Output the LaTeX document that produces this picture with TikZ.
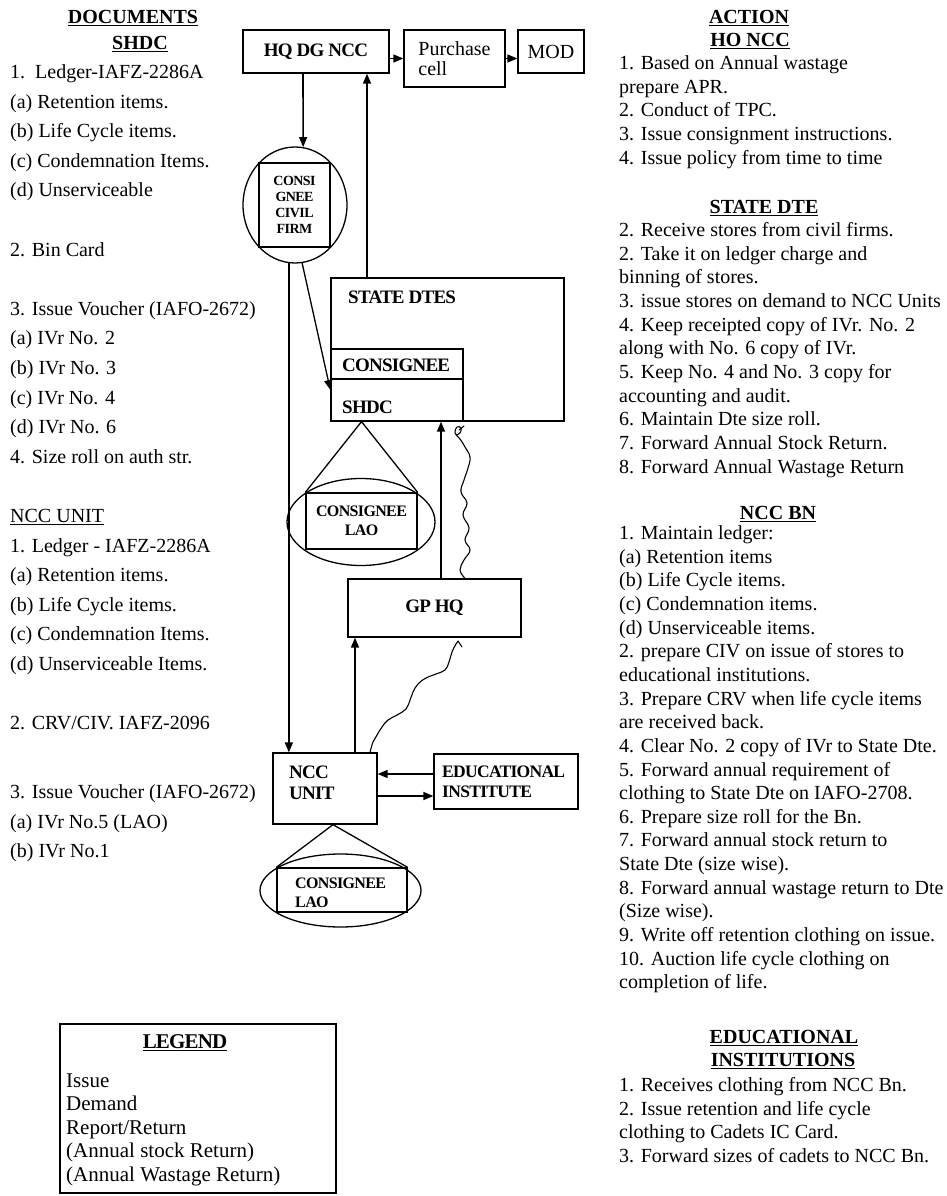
\documentclass[tikz,border=0pt]{standalone}
\usepackage{fontspec}
\setmainfont{Liberation Serif}
\newfontfamily\tbf{Liberation Serif}[LetterSpace=-4]
\usetikzlibrary{arrows.meta,shapes.geometric,calc}
\begin{document}
\begin{tikzpicture}[x=1pt,y=-1pt,
  box/.style={draw,line width=1.3pt,rectangle,inner sep=0pt},
  oval/.style={draw,line width=1.3pt,ellipse,inner sep=0pt},
  arr/.style={line width=1.6pt,-{Triangle[length=10pt,width=8pt]}},
  ln/.style={line width=1.3pt},
  wav/.style={line width=1.1pt,line join=round,line cap=round},
  dtext/.style={font=\tbf\bfseries\fontsize{19}{21}\selectfont,inner sep=0pt},
  stext/.style={font=\tbf\bfseries\fontsize{16}{19}\selectfont,inner sep=0pt},
  body/.style={font=\fontsize{20}{29.6}\selectfont,align=left,anchor=base west,inner sep=0pt},
  rbody/.style={font=\fontsize{20}{23.65}\selectfont,align=left,anchor=base west,inner sep=0pt},
  head/.style={font=\bfseries\fontsize{20}{23.5}\selectfont,inner sep=0pt,anchor=base},
]
\useasboundingbox (0,0) rectangle (947,1196);

% ---------------- left column (anchors at baseline of LAST line) ----------------
\node[head] (hdoc) at (133,23.7) {\underline{DOCUMENTS}};
\node[head] (hshdc) at (140,49.7) {\underline{SHDC}};
\node[body] (docs) at (10,729.7) {1.\ \ Ledger-IAFZ-2286A\\
(a) Retention items.\\
(b) Life Cycle items.\\
(c) Condemnation Items.\\
(d) Unserviceable\\[29.6pt]
2. Bin Card\\[29.6pt]
3. Issue Voucher (IAFO-2672)\\
(a) IVr No. 2\\
(b) IVr No. 3\\
(c) IVr No. 4\\
(d) IVr No. 6\\
4. Size roll on auth str.\\[29.6pt]
\underline{NCC UNIT}\\
1. Ledger - IAFZ-2286A\\
(a) Retention items.\\
(b) Life Cycle items.\\
(c) Condemnation Items.\\
(d) Unserviceable Items.\\[29.6pt]
2. CRV/CIV. IAFZ-2096};
\node[body] (docs2) at (10,857.7) {3. Issue Voucher (IAFO-2672)\\
(a) IVr No.5 (LAO)\\
(b) IVr No.1};

% ---------------- legend ----------------
\node[box,minimum width=276pt,minimum height=169pt] (leg) at (198,1108.5) {};
\node[head,font=\tbf\bfseries\fontsize{21}{23.5}\selectfont] (legt) at (185,1048.7) {\underline{LEGEND}};
\node[body,font=\fontsize{21}{23.5}\selectfont] (legi) at (66,1181) {Issue\\Demand\\Report/Return\\(Annual stock Return)\\(Annual Wastage Return)};

% ---------------- right column ----------------
\node[head] (hact) at (749,23.7) {\underline{ACTION}};
\node[head] (hho) at (750,46.7) {\underline{HO NCC}};
\node[rbody] (r1) at (619,164.1) {1. Based on Annual wastage\\
prepare APR.\\
2. Conduct of TPC.\\
3. Issue consignment instructions.\\
4. Issue policy from time to time};
\node[head] (hsd) at (764,213.7) {\underline{STATE DTE}};
\node[rbody] (r2) at (619,473) {2. Receive stores from civil firms.\\
2. Take it on ledger charge and\\
binning of stores.\\
3. issue stores on demand to NCC Units\\
4. Keep receipted copy of IVr. No. 2\\
along with No. 6 copy of IVr.\\
5. Keep No. 4 and No. 3 copy for\\
accounting and audit.\\
6. Maintain Dte size roll.\\
7. Forward Annual Stock Return.\\
8. Forward Annual Wastage Return};
\node[head] (hbn) at (778,519.7) {\underline{NCC BN}};
\node[rbody] (r3) at (619,988.85) {1. Maintain ledger:\\
(a) Retention items\\
(b) Life Cycle items.\\
(c) Condemnation items.\\
(d) Unserviceable items.\\
2. prepare CIV on issue of stores to\\
educational institutions.\\
3. Prepare CRV when life cycle items\\
are received back.\\
4. Clear No. 2 copy of IVr to State Dte.\\
5. Forward annual requirement of\\
clothing to State Dte on IAFO-2708.\\
6. Prepare size roll for the Bn.\\
7. Forward annual stock return to\\
State Dte (size wise).\\
8. Forward annual wastage return to Dte\\
(Size wise).\\
9. Write off retention clothing on issue.\\
10. Auction life cycle clothing on\\
completion of life.};
\node[head] (hed1) at (784,1043.7) {\underline{EDUCATIONAL}};
\node[head] (hed2) at (783,1066.7) {\underline{INSTITUTIONS}};
\node[rbody] (r4) at (619,1162.45) {1. Receives clothing from NCC Bn.\\
2. Issue retention and life cycle\\
clothing to Cadets IC Card.\\
3. Forward sizes of cadets to NCC Bn.};

% ---------------- diagram nodes ----------------
\node[box,dtext,minimum width=146pt,minimum height=43pt] (hq) at (316,51.5) {HQ DG NCC};
\node[box,minimum width=101pt,minimum height=57pt,align=left,font=\fontsize{20}{20}\selectfont] (pc) at (454.5,58.5) {Purchase\\cell};
\node[box,minimum width=66pt,minimum height=43pt,font=\fontsize{20}{20}\selectfont] (mod) at (551,51.5) {MOD};

\node[oval,minimum width=104pt,minimum height=116pt] (consi) at (295,205) {};
\node[box,line width=1.2pt,minimum width=71pt,minimum height=84pt,align=center,font=\tbf\bfseries\fontsize{14}{16}\selectfont] (consir) at (294.5,205) {CONSI\\GNEE\\CIVIL\\FIRM};

\node[box,minimum width=233pt,minimum height=143pt] (sd) at (447.5,349.5) {};
\node[dtext,anchor=west] (sdl) at (348,297) {STATE DTES};
\node[box,minimum width=132pt,minimum height=30pt] (cons) at (397,364) {};
\node[dtext,anchor=west] (consl) at (342,365) {CONSIGNEE};
\node[box,minimum width=132pt,minimum height=42pt] (shdc) at (397,400) {};
\node[dtext,anchor=west] (shdcl) at (342,407) {SHDC};

\node[oval,minimum width=148pt,minimum height=87pt] (lao1) at (361,522) {};
\node[box,stext,minimum width=111pt,minimum height=56pt,align=center] (lao1r) at (361.5,521) {CONSIGNEE\\LAO};

\node[box,dtext,minimum width=173pt,minimum height=58pt] (gp) at (434.5,608) {GP HQ};

\node[box,minimum width=104pt,minimum height=71pt] (ncc) at (325,788.5) {};
\node[dtext,align=left,anchor=west] (nccl) at (289,783) {NCC\\UNIT};
\node[box,minimum width=144pt,minimum height=55pt] (edu) at (506,781.5) {};
\node[dtext,align=left,anchor=west,font=\tbf\bfseries\fontsize{17.5}{20}\selectfont] (edul) at (442,782) {EDUCATIONAL\\INSTITUTE};

\node[oval,minimum width=161pt,minimum height=73pt] (lao2) at (340.5,890.5) {};
\node[box,minimum width=130pt,minimum height=44pt] (lao2r) at (342,890) {};
\node[stext,align=left,anchor=west] (lao2l) at (295,892.5) {CONSIGNEE\\LAO};

% ---------------- connectors ----------------
\draw[arr] (pc.west -| hq.east) -- (pc.west);
\draw[arr] (pc.east) -- (pc.east -| mod.west);
\draw[arr] ([xshift=-13pt]hq.south) -- (consi.82);
\draw[arr] ([xshift=-80.5pt]sd.north) -- ([xshift=-80.5pt]sd.north |- hq.south);
\draw[arr] (consi.264) -- (consi.264 |- ncc.north);
\draw[arr,line width=1.3pt] (consi.277) -- ([yshift=10pt]shdc.west);
\draw[ln] (lao1r.north west) -- (lao1r.north |- shdc.south) -- (lao1r.north east);
\draw[arr] ([xshift=6.5pt]gp.north) -- ([xshift=6.5pt]gp.north |- shdc.south);
\draw[arr] ([xshift=30pt]ncc.north) -- ([xshift=30pt]ncc.north |- gp.south);
\draw[arr] ([yshift=7.5pt]edu.west) -- ([yshift=7.5pt]edu.west -| ncc.east);
\draw[arr] ([yshift=-14.5pt]edu.west -| ncc.east) -- ([yshift=-14.5pt]edu.west);
\draw[ln] (lao2r.north west) -- ([xshift=8pt]ncc.south) -- (lao2r.north east);

% wavy report/return lines
\draw[wav] plot[smooth,tension=0.7] coordinates {([xshift=30.5pt]gp.north) (460,570) (464,560) (470,550) (465,540) (469,528) (463,515) (467,503) (461,492) (464,480) (468,468) (470,457) (465,447) (460,439) (455,433) (457,427) (461,428) (460,433) (456,435)};
\draw[wav] (459,430) -- (464,426);
\draw[wav] plot[smooth,tension=0.7] coordinates {([xshift=45pt]ncc.north) (373,742) (377,735) (382,727) (388,720) (397,715) (406,709) (410,700) (413,692) (418,684) (426,678) (436,674) (445,670) (449,662) (452,652) (456,644)} -- (458,641) -- (462,647);
\end{tikzpicture}
\end{document}
